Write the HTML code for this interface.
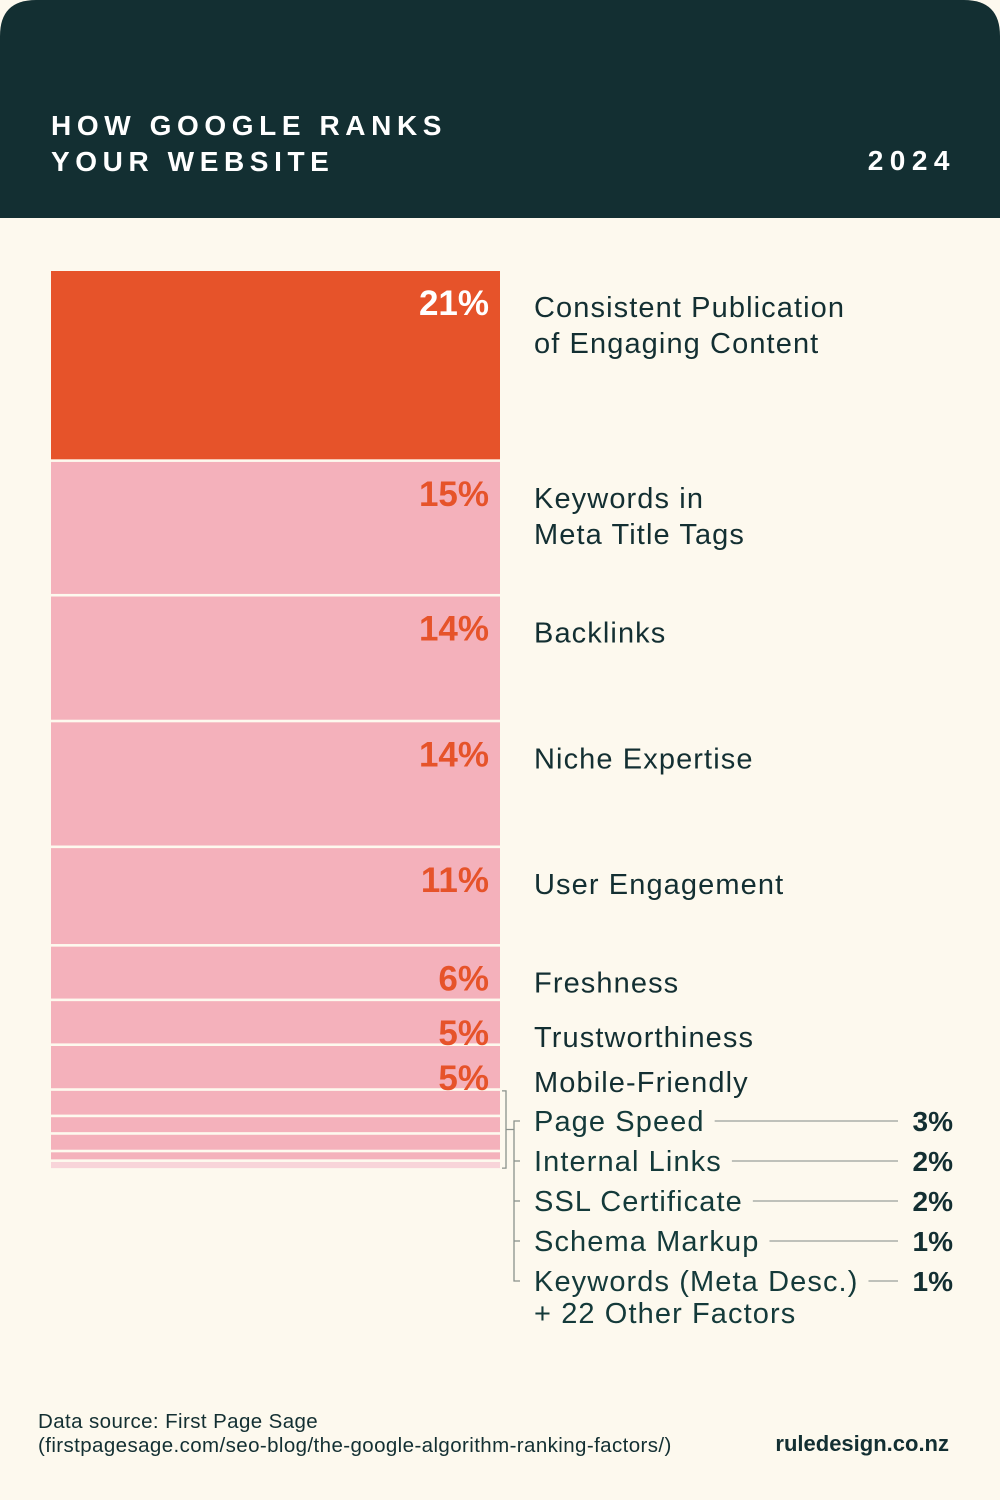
<!DOCTYPE html>
<html><head><meta charset="utf-8"><style>
html,body{margin:0;padding:0;background:#fdf9ee;}
svg{display:block;font-family:"Liberation Sans",sans-serif;}
</style></head><body>
<svg id="c" width="1000" height="1500" viewBox="0 0 1000 1500">
<rect x="0" y="0" width="1000" height="1500" fill="#fdf9ee"/>
<path d="M0 218 V36 Q0 0 36 0 H964 Q1000 0 1000 36 V218 Z" fill="#132f32"/>
<text x="51" y="135" fill="#fff" font-size="28" font-weight="bold" letter-spacing="5.6">HOW GOOGLE RANKS</text>
<text x="51" y="171" fill="#fff" font-size="28" font-weight="bold" letter-spacing="5.6">YOUR WEBSITE</text>
<text x="956" y="170" fill="#fff" font-size="28" font-weight="bold" letter-spacing="6.5" text-anchor="end">2024</text>
<g id="bars"></g>
<g id="labels"></g>
<g id="small"></g>
<text x="38" y="1428" fill="#132f32" font-size="20.5" letter-spacing="0.4">Data source: First Page Sage</text>
<text x="38" y="1452" fill="#132f32" font-size="20.5" letter-spacing="0.4">(firstpagesage.com/seo-blog/the-google-algorithm-ranking-factors/)</text>
<text x="949" y="1451" fill="#132f32" font-size="22" font-weight="bold" text-anchor="end">ruledesign.co.nz</text>
</svg>
<script>
const categories = ["Consistent Publication|of Engaging Content","Keywords in|Meta Title Tags","Backlinks","Niche Expertise","User Engagement","Freshness","Trustworthiness","Mobile-Friendly","Page Speed","Internal Links","SSL Certificate","Schema Markup","Keywords (Meta Desc.)"];
const values = [21.4,15,14,14,10.9,5.9,4.8,4.8,2.7,1.7,1.7,0.8,0.7];
const valueLabels = ["21%","15%","14%","14%","11%","6%","5%","5%","3%","2%","2%","1%","1%"];
const otherNote = "+ 22 Other Factors";

const NS="http://www.w3.org/2000/svg";
const X0=51, X1=500, TOP=271, GAP=2.6, PER=8.8;
function yScale(v){return v*PER;}
function mk(tag,attrs,parent){const e=document.createElementNS(NS,tag);for(const k in attrs)e.setAttribute(k,attrs[k]);parent.appendChild(e);return e;}
const gB=document.getElementById('bars'), gL=document.getElementById('labels'), gS=document.getElementById('small');
let y=TOP; const tops=[];
values.forEach((v,i)=>{
  const h=yScale(v);
  tops.push([y,h]);
  const fill = i===0?'#e6532a':(i===values.length-1?'#f8d4d9':'#f4b1bb');
  const r=mk('rect',{x:X0,y:y,width:X1-X0,height:h,fill:fill},gB);
  
  
  if(i<8){
    const t=mk('text',{x:489,y:y+44,'text-anchor':'end','font-size':35,'font-weight':'bold',fill:i===0?'#fff':'#e6532a'},gL);
    t.textContent=valueLabels[i];
    
    
    categories[i].split('|').forEach((ln,j)=>{
      const l=mk('text',{x:534,y:y+46+j*36,'font-size':29,'letter-spacing':1.1,fill:'#132f32'},gL);
      l.textContent=ln;
      
      
    });
  }
  y+=h+GAP;
});
const bTop=tops[8][0], bBot=tops[12][0]+tops[12][1];
const st={stroke:'#8a918c','stroke-width':1.3,fill:'none'};
const br=mk('path',Object.assign({d:`M502 ${bTop} H506 V${bBot} H502 M506 ${(bTop+bBot)/2} H514`},st),gS);


const rows=[];
for(let i=8;i<13;i++) rows.push(1121+(i-8)*40);
const vl=mk('path',Object.assign({d:`M520 ${rows[0]} H514 V${rows[4]} H520`},st),gS);


for(let i=8;i<13;i++){
  const ry=rows[i-8];
  if(i>8&&i<12){const tk=mk('line',Object.assign({x1:514,x2:520,y1:ry,y2:ry},st),gS);}
  const t=mk('text',{x:534,y:ry+10,'font-size':29,'letter-spacing':1.1,fill:'#143a3a'},gS);
  t.textContent=categories[i];
  
  
  const w=t.getComputedTextLength();
  const ld=mk('line',{x1:534+w+10,x2:898,y1:ry,y2:ry,stroke:'#9aa09b','stroke-width':1.3},gS);
  
  
  const p=mk('text',{x:953,y:ry+10,'text-anchor':'end','font-size':28,'font-weight':'bold',fill:'#132f32'},gS);
  p.textContent=valueLabels[i];
  
  
}
const on=mk('text',{x:534,y:rows[4]+42,'font-size':29,'letter-spacing':1.1,fill:'#143a3a'},gS);
on.textContent=otherNote;


</script>
</body></html>
